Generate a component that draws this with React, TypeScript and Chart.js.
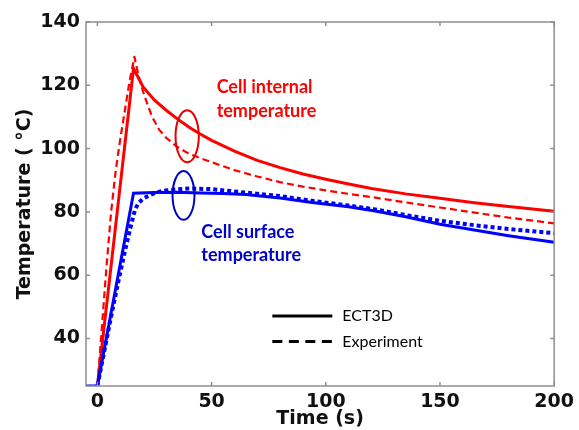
import { useEffect, useRef } from 'react';
import { Chart, registerables } from 'chart.js';

Chart.register(...registerables);

// ---- axis ticks ----
const xTicks = [0, 50, 100, 150, 200];
const yTicks = [40, 60, 80, 100, 120, 140];

// ---- ECT3D, cell internal temperature ----
const internalSimTime = [0, 15.8, 20, 25, 30, 35, 40, 45, 50, 60, 70, 80, 90, 100, 110, 120, 135, 150, 165, 180, 200];
const internalSimTemp = [25, 125.3, 119.5, 115.3, 112.2, 109.4, 106.8, 104.6, 102.6, 99.2, 96.3, 94, 92, 90.3, 88.8, 87.4, 85.7, 84.3, 82.9, 81.7, 80.2];

// ---- Experiment, cell internal temperature ----
const internalExpTime = [0, 2, 4, 6, 8, 10, 12, 14, 16.2, 18, 20, 22, 24, 27, 30, 35, 40, 45, 50, 60, 70, 80, 90, 100, 110, 120, 135, 150, 165, 180, 200];
const internalExpTemp = [25, 44, 63, 80, 93, 103, 112, 121, 129, 123, 118, 113.8, 110, 106, 103.5, 100.5, 98.4, 97, 95.7, 93.2, 91.2, 89.4, 88, 86.8, 85.7, 84.7, 83, 81.4, 79.8, 78.2, 76.4];

// ---- ECT3D, cell surface temperature ----
const surfaceSimTime = [-5, 0, 15.8, 25, 35, 45, 55, 65, 80, 94, 110, 121.6, 135, 150, 165, 180, 200];
const surfaceSimTemp = [25, 25, 85.9, 86.1, 86.2, 86, 85.8, 85.5, 84.4, 83, 81.6, 80.3, 78.5, 76.1, 74.3, 72.5, 70.4];

// ---- Experiment, cell surface temperature ----
const surfaceExpTime = [0, 3, 6, 9, 12, 14.3, 16.5, 18, 20, 23, 26, 30, 40, 50, 65, 80, 94, 110, 121.6, 135, 150, 165, 180, 200];
const surfaceExpTemp = [25, 36, 47, 57.5, 67.5, 74.6, 80.8, 82.8, 84.2, 85.3, 86.2, 86.8, 87.4, 87.2, 86.1, 85, 83.5, 82, 80.8, 79, 77.2, 75.8, 74.6, 73.3];

// ---- texts ----
const legendLabels = ['ECT3D', 'Experiment'];
const internalLabel = ['Cell internal', 'temperature'];
const surfaceLabel = ['Cell surface', 'temperature'];

const RED = '#ff0000';
const BLUE = '#0000ff';

const pts = (xs: number[], ys: number[]) => xs.map((x, i) => ({ x, y: ys[i] }));

const decorPlugin = {
  id: 'decor',
  afterDatasetsDraw(chart: any) {
    const { ctx, chartArea: a, scales } = chart;
    const x = scales.x;
    const y = scales.y;
    const px = (v: number) => x.getPixelForValue(v);
    const py = (v: number) => y.getPixelForValue(v);
    ctx.save();

    // frame
    ctx.strokeStyle = '#8f8f8f';
    ctx.lineWidth = 1.5;
    ctx.strokeRect(a.left, a.top, a.right - a.left, a.bottom - a.top);

    // inward tick marks on all four sides
    ctx.beginPath();
    for (const v of xTicks) {
      const p = px(v);
      ctx.moveTo(p, a.bottom);
      ctx.lineTo(p, a.bottom - 4);
      ctx.moveTo(p, a.top);
      ctx.lineTo(p, a.top + 4);
    }
    for (const v of yTicks) {
      const p = py(v);
      ctx.moveTo(a.left, p);
      ctx.lineTo(a.left + 4, p);
      ctx.moveTo(a.right, p);
      ctx.lineTo(a.right - 4, p);
    }
    ctx.stroke();

    // ellipses highlighting the curves
    const ell = (cx: number, cy: number, rxv: number, ryv: number, color: string) => {
      const cxp = px(cx);
      const cyp = py(cy);
      const rx = px(cx + rxv) - cxp;
      const ry = cyp - py(cy + ryv);
      ctx.beginPath();
      ctx.strokeStyle = color;
      ctx.lineWidth = 2;
      ctx.ellipse(cxp, cyp, rx, ry, 0, 0, Math.PI * 2);
      ctx.stroke();
    };
    ell(39.3, 103.9, 5.1, 8.2, '#e60000');
    ell(37.7, 85.2, 4.8, 7.7, '#0000c0');

    // annotation texts
    ctx.font = 'bold 18px Lato, "Open Sans", sans-serif';
    ctx.textBaseline = 'middle';
    ctx.textAlign = 'left';
    ctx.fillStyle = RED;
    ctx.fillText(internalLabel[0], px(52.2), py(119.5));
    ctx.fillText(internalLabel[1], px(52.2), py(111.8));
    ctx.fillStyle = '#0000cc';
    ctx.fillText(surfaceLabel[0], px(45.5), py(73.6));
    ctx.fillText(surfaceLabel[1], px(45.5), py(66.2));

    // legend (inside the axes)
    const lx0 = a.left + (a.right - a.left) * 0.398;
    const lx1 = lx0 + 60;
    const ly0 = a.top + (a.bottom - a.top) * 0.808;
    const ly1 = ly0 + 25.5;
    ctx.strokeStyle = '#000';
    ctx.lineWidth = 3;
    ctx.setLineDash([]);
    ctx.beginPath();
    ctx.moveTo(lx0, ly0);
    ctx.lineTo(lx1, ly0);
    ctx.stroke();
    ctx.setLineDash([10, 6.5]);
    ctx.beginPath();
    ctx.moveTo(lx0, ly1);
    ctx.lineTo(lx1, ly1);
    ctx.stroke();
    ctx.setLineDash([]);
    ctx.fillStyle = '#000';
    ctx.font = '16px Lato, "Open Sans", sans-serif';
    ctx.fillText(legendLabels[0], lx1 + 10, ly0);
    ctx.fillText(legendLabels[1], lx1 + 10, ly1);

    ctx.restore();
  },
};

export default function App() {
  const ref = useRef<HTMLCanvasElement | null>(null);

  useEffect(() => {
    if (!ref.current) return;
    const tickFont = { family: '"DejaVu Sans", sans-serif', weight: 'bold' as const, size: 19 };
    const chart = new Chart(ref.current, {
      type: 'line',
      data: {
        datasets: [
          {
            label: 'Experiment (surface)',
            data: pts(surfaceExpTime, surfaceExpTemp),
            borderColor: BLUE,
            borderWidth: 4,
            borderDash: [4, 3],
            pointRadius: 0,
            fill: false,
          },
          {
            label: 'ECT3D (surface)',
            data: pts(surfaceSimTime, surfaceSimTemp),
            borderColor: BLUE,
            borderWidth: 3,
            pointRadius: 0,
            fill: false,
          },
          {
            label: 'ECT3D (internal)',
            data: pts(internalSimTime, internalSimTemp),
            borderColor: RED,
            borderWidth: 3,
            pointRadius: 0,
            fill: false,
          },
          {
            label: 'Experiment (internal)',
            data: pts(internalExpTime, internalExpTemp),
            borderColor: RED,
            borderWidth: 2.2,
            borderDash: [7, 4],
            borderJoinStyle: 'round',
            pointRadius: 0,
            fill: false,
          },
        ],
      },
      options: {
        responsive: false,
        animation: false,
        devicePixelRatio: 1,
        layout: { padding: { left: 0, right: 22, top: 22, bottom: 0 } },
        plugins: { legend: { display: false }, tooltip: { enabled: false } },
        elements: { line: { tension: 0 } },
        scales: {
          x: {
            type: 'linear',
            min: -5,
            max: 200,
            afterBuildTicks: (s: any) => {
              s.ticks = xTicks.map((v) => ({ value: v }));
            },
            afterFit: (s: any) => {
              s.height = 44;
            },
            grid: { display: false, drawTicks: false },
            border: { display: false },
            ticks: { font: tickFont, color: '#111', padding: 5, autoSkip: false, maxRotation: 0 },
            title: {
              display: true,
              text: 'Time (s)',
              font: tickFont,
              color: '#111',
              padding: { top: 0, bottom: 0 },
            },
          },
          y: {
            type: 'linear',
            min: 25,
            max: 140,
            afterBuildTicks: (s: any) => {
              s.ticks = yTicks.map((v) => ({ value: v }));
            },
            afterFit: (s: any) => {
              s.width = 86;
            },
            grid: { display: false, drawTicks: false },
            border: { display: false },
            ticks: { font: tickFont, color: '#111', padding: 6, autoSkip: false },
            title: {
              display: true,
              text: 'Temperature ( °C)',
              font: tickFont,
              color: '#111',
              padding: { top: 14, bottom: 0 },
            },
          },
        },
      },
      plugins: [decorPlugin],
    });
    return () => chart.destroy();
  }, []);

  return (
    <div style={{ position: 'fixed', left: 0, top: 0, width: 579, height: 430, background: '#fff' }}>
      <canvas ref={ref} width={579} height={430} style={{ display: 'block' }} />
    </div>
  );
}
